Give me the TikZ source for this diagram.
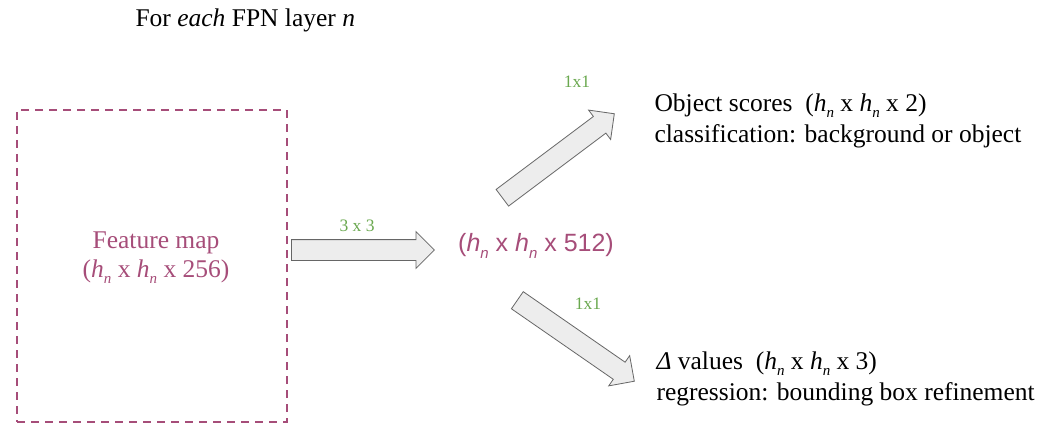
\documentclass[tikz,border=0pt]{standalone}
\usepackage{fontspec}
\setmainfont{Liberation Serif}
\newfontfamily\sansfont{Liberation Sans}
\usepackage{xcolor}
\usetikzlibrary{positioning, shapes.arrows, calc}

\definecolor{plum}{HTML}{A64D79}
\definecolor{leaf}{HTML}{6AA84F}
\newcommand{\hsub}{\textit{h}\raisebox{-0.5ex}{\fontsize{15}{15}\selectfont\textit{n}}}

\tikzset{
  blockarrow/.style={single arrow, draw=black!60, fill=black!7, line width=0.8pt,
    inner sep=10pt, single arrow head extend=8pt, minimum height=#1},
  kernel/.style={text=leaf, font=\fontsize{17.5}{20}\selectfont},
  serif24/.style={font=\fontsize{25.5}{30.5}\selectfont, align=left}
}

\begin{document}
\begin{tikzpicture}[x=1pt, y=-1pt]
        \useasboundingbox (0,0) rectangle (1042,425);

        \node[anchor=west, font=\fontsize{25.5}{28}\selectfont] (title) at (132,20) {For \textit{each} FPN layer \textit{n}};

        \node[draw=plum, line width=2pt, dash pattern=on 8pt off 6pt,
              minimum width=270pt, minimum height=312pt] (fmap) at (152,266) {};
        \node[text=plum, font=\fontsize{25.5}{29}\selectfont, align=center] (fmaptxt) at (156,258)
            {Feature map\\(\hsub{} x \hsub{} x 256)};

        \node[text=plum, font=\sansfont\fontsize{25}{28}\selectfont] (inner) at (536,246)
            {(\hsub{} x \hsub{} x 512)};

        \node[serif24, anchor=west] (scores) at (651,121)
            {Object scores\ \ (\hsub{} x \hsub{} x 2)\\classification: background or object};
        \node[serif24, anchor=west] (deltas) at (653,379)
            {\textit{Δ} values\ \ (\hsub{} x \hsub{} x 3)\\regression: bounding box refinement};

        % block arrows
        \coordinate (convtail) at (291,250);
        \coordinate (convtip)  at (434,250);
        \coordinate (clstail)  at (502,198);
        \coordinate (clstip)   at (614,114);
        \coordinate (regtail)  at (517,300);
        \coordinate (regtip)   at (634,381);

        \path let \p1=($(convtip)-(convtail)$), \n1={veclen(\x1,\y1)} in
            (convtail) -- (convtip) node[pos=0, sloped, anchor=tail, blockarrow=\n1] (conv) {};
        \path let \p1=($(clstip)-(clstail)$), \n1={veclen(\x1,\y1)} in
            (clstail) -- (clstip) node[pos=0, sloped, anchor=tail, blockarrow=\n1] (cls) {};
        \path let \p1=($(regtip)-(regtail)$), \n1={veclen(\x1,\y1)} in
            (regtail) -- (regtip) node[pos=0, sloped, anchor=tail, blockarrow=\n1] (reg) {};

        \node[kernel] (conv3) at (357,226) {3 x 3};
        \node[kernel] (cls1) at (577,82) {1x1};
        \node[kernel] (reg1) at (588,304) {1x1};

    \end{tikzpicture}
\end{document}
